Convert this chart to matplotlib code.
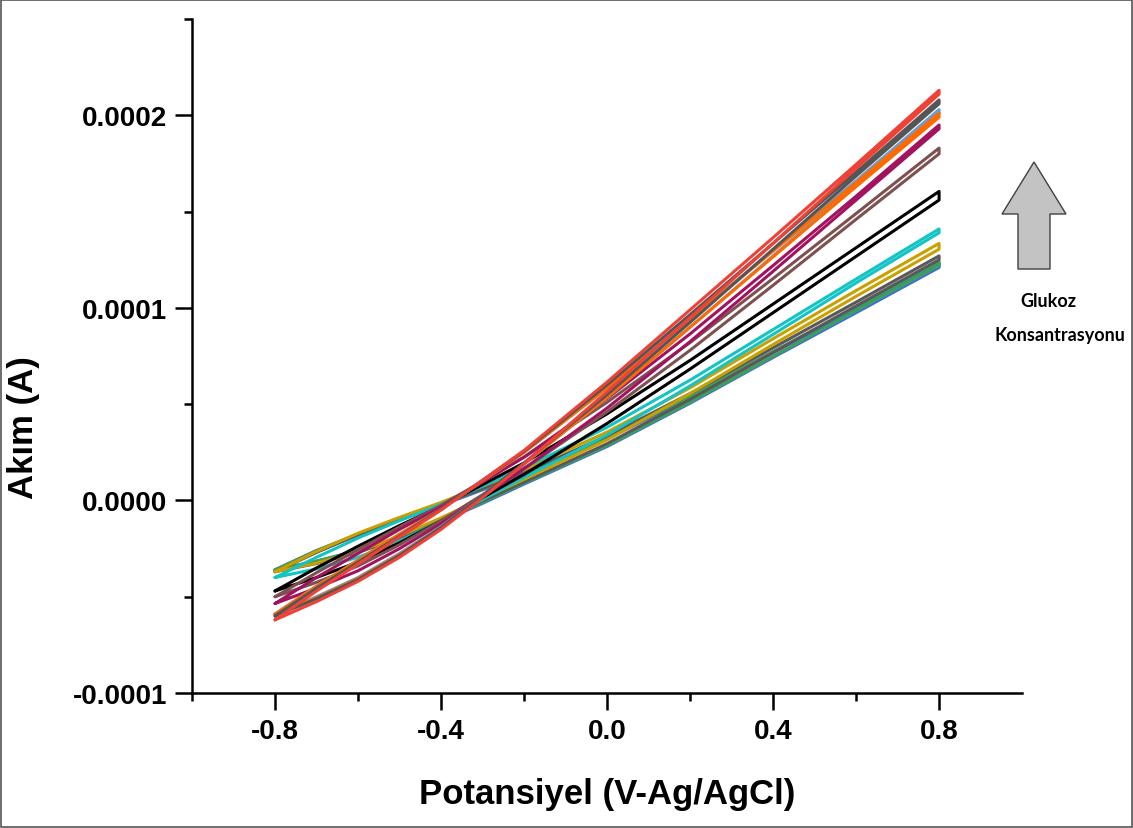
import numpy as np
import matplotlib
matplotlib.use("Agg")
import matplotlib.pyplot as plt
from matplotlib.ticker import FormatStrFormatter
from matplotlib.patches import Polygon, Rectangle

plt.rcParams["font.family"] = ["Liberation Sans", "DejaVu Sans"]

# potential grid (V vs Ag/AgCl)
potential = [-0.8, -0.7, -0.6, -0.5, -0.4, -0.3, -0.2, 0.0, 0.2, 0.4, 0.6, 0.8]

# current in microamps, forward scan / reverse scan
red_fwd = [-62, -47, -33, -19, -5, 10.5, 26, 61.5, 99, 136.5, 174.5, 213]
red_rev = [-62, -52.5, -42, -29.5, -15, 1.5, 19, 56.5, 95, 133.5, 172.5, 211]
dkgray_fwd = [-60, -45.5, -32, -18.5, -4.5, 10.5, 25.5, 60, 96.5, 133.5, 170.5, 208]
dkgray_rev = [-60, -51, -41, -28.5, -14, 2.5, 19.5, 55, 92.5, 130.5, 168.5, 206]
lblue_fwd = [-59, -44.5, -31, -17.5, -4.5, 10.25, 25, 58.5, 94, 130, 166, 203]
lblue_rev = [-59, -50, -40, -27.5, -13.5, 2.5, 19, 53.5, 90, 127, 164, 201]
orange_fwd = [-59, -44.5, -31, -17.5, -4.5, 10.25, 25, 58.5, 94, 129.5, 165, 201]
orange_rev = [-59, -50.5, -40.5, -28, -14, 2.5, 19, 53.5, 90, 126.5, 163, 199]
magenta_fwd = [-53.5, -40, -27.5, -15, -3.5, 9.5, 22.5, 53, 86.5, 122, 158, 195]
magenta_rev = [-53.5, -45.5, -36.5, -25, -12, 2, 16.5, 48, 82.5, 119, 156, 193]
brown_fwd = [-50, -37.5, -25.5, -13.75, -2.5, 10, 22.5, 51, 82, 115.25, 149, 183]
brown_rev = [-50, -42.5, -34, -23, -10.5, 3, 16.5, 46, 78, 111.75, 146, 180]
black_fwd = [-47, -35, -23.75, -13, -3, 8.25, 19.5, 45, 72.75, 102, 131.25, 160.5]
black_rev = [-47, -40, -32, -22, -10.5, 1.5, 13.5, 40, 68.25, 97.5, 126.75, 156]
cyan_fwd = [-40, -29.5, -19.5, -10.5, -2, 7.5, 17, 38, 62.5, 88.75, 115, 141]
cyan_rev = [-40, -35.5, -29.5, -21, -10.5, 0.5, 12, 34, 59.5, 86.25, 113, 139]
gold_fwd = [-37, -26.5, -17, -8.75, -1, 7.5, 16, 35.5, 58.5, 84, 109, 133.5]
gold_rev = [-37, -32.5, -26.5, -18.5, -9, 1, 11, 31.5, 55.5, 81, 106, 130.5]
dkgray2_fwd = [-37, -27, -17.75, -9.75, -2, 6.25, 14.5, 33.5, 55.5, 79.25, 103, 127]
dkgray2_rev = [-37, -32.75, -27, -19.5, -10, -0.25, 9.5, 29.5, 52.5, 76.75, 101, 125]
green_fwd = [-36, -26, -17.5, -9.75, -2, 6, 14, 32.5, 54, 77.25, 100.5, 124]
green_rev = [-36, -31.5, -26, -19, -10.5, -1, 9, 28.5, 51, 74.75, 98.5, 122]
blue_fwd = [-36.5, -26.5, -18, -10.25, -2.5, 5.5, 13.5, 32, 53.5, 76.75, 99.5, 123]
blue_rev = [-36.5, -32, -26.5, -19.5, -11, -1.5, 8.5, 28, 50.5, 74.25, 97.5, 121]
violet_fwd = [-36, -26, -17.5, -9.75, -2, 6, 14, 32.5, 54, 77.25, 100, 123.5]
violet_rev = [-36, -31.5, -26, -19, -10.5, -1, 9, 28.5, 51, 74.75, 98, 121.5]

# drawing order: bottom of the stack first
curves = [
    ("#9B59D0", violet_fwd, violet_rev),
    ("#4169E1", blue_fwd, blue_rev),
    ("#3AA15A", green_fwd, green_rev),
    ("#595959", dkgray2_fwd, dkgray2_rev),
    ("#C9A000", gold_fwd, gold_rev),
    ("#12C4C4", cyan_fwd, cyan_rev),
    ("#000000", black_fwd, black_rev),
    ("#7E5151", brown_fwd, brown_rev),
    ("#A3125E", magenta_fwd, magenta_rev),
    ("#6A9BD1", lblue_fwd, lblue_rev),
    ("#FF6A00", orange_fwd, orange_rev),
    ("#555555", dkgray_fwd, dkgray_rev),
    ("#EF4136", red_fwd, red_rev),
]

fig = plt.figure(figsize=(11.33, 8.29), dpi=100)
ax = fig.add_axes([0.1695, 0.1628, 0.7326, 0.813])

for color, fwd, rev in curves:
    x = potential + potential[::-1]
    y = np.array(fwd + rev[::-1]) * 1e-6
    ax.plot(x, y, color=color, lw=2.2, solid_joinstyle="round", solid_capstyle="round")

ax.set_xlim(-1.0, 1.0)
ax.set_ylim(-0.0001, 0.00025)

for s in ["top", "right"]:
    ax.spines[s].set_visible(False)
for s in ["left", "bottom"]:
    ax.spines[s].set_linewidth(1.8)

ax.set_xticks([-0.8, -0.4, 0.0, 0.4, 0.8])
ax.set_xticks([-1.0, -0.6, -0.2, 0.2, 0.6], minor=True)
ax.set_yticks([-0.0001, 0.0, 0.0001, 0.0002])
ax.set_yticks([-0.00005, 0.00005, 0.00015, 0.00025], minor=True)
ax.xaxis.set_major_formatter(FormatStrFormatter("%.1f"))
ax.yaxis.set_major_formatter(FormatStrFormatter("%.4f"))
ax.tick_params(which="major", direction="out", length=12, width=1.8, labelsize=20, pad=6)
ax.tick_params(which="minor", direction="out", length=6, width=1.8)
for lab in ax.get_xticklabels() + ax.get_yticklabels():
    lab.set_fontweight("bold")

ax.set_xlabel("Potansiyel (V-Ag/AgCl)", fontsize=25, fontweight="bold")
ax.set_ylabel("Akım (A)", fontsize=25, fontweight="bold")
ax.xaxis.set_label_coords(0.5, -0.125)
ax.yaxis.set_label_coords(-0.183, 0.395)

# block arrow on the right (figure pixel fractions)
W, H = 1133.0, 829.0
arrow_px = [(1034, 163), (1066, 215), (1050, 215), (1050, 270),
            (1018, 270), (1018, 215), (1002, 215)]
arrow = Polygon([(px / W, 1 - py / H) for px, py in arrow_px], closed=True,
                transform=fig.transFigure, facecolor="#C3C3C3",
                edgecolor="#404040", lw=1.0)
fig.add_artist(arrow)
fig.text(1048 / W, 1 - 302 / H, "Glukoz", ha="center", va="center",
         fontsize=13, fontweight="bold", family=["Lato", "DejaVu Sans"])
fig.text(1060 / W, 1 - 336 / H, "Konsantrasyonu", ha="center", va="center",
         fontsize=13, fontweight="bold", family=["Lato", "DejaVu Sans"])

# thin frame around the whole picture
fig.add_artist(Rectangle((0.001, 0.001), 0.998, 0.998, transform=fig.transFigure,
                         fill=False, edgecolor="#555555", lw=1.2))

fig.savefig("out.png", dpi=100)
